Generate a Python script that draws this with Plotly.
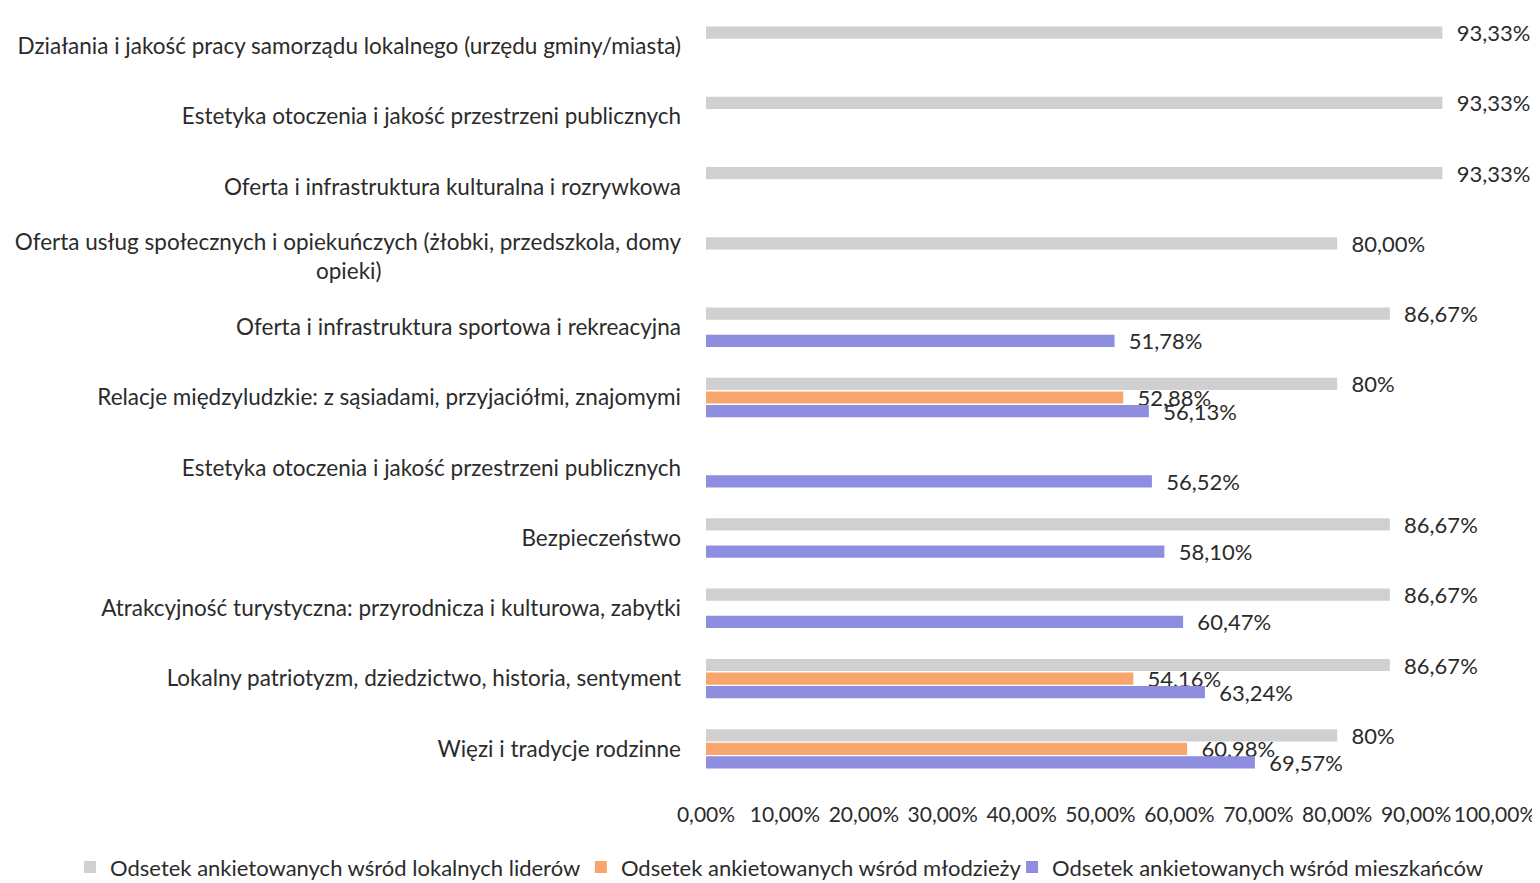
import plotly.graph_objects as go

NB = "\u00a0"
categories = [
    "Działania i jakość pracy samorządu lokalnego (urzędu gminy/miasta)",
    "Estetyka otoczenia i jakość przestrzeni publicznych",
    "Oferta i infrastruktura kulturalna i rozrywkowa",
    "Oferta usług społecznych i opiekuńczych (żłobki, przedszkola, domy<br>opieki)" + NB * 52,
    "Oferta i infrastruktura sportowa i rekreacyjna",
    "Relacje międzyludzkie: z sąsiadami, przyjaciółmi, znajomymi",
    "Estetyka otoczenia i jakość przestrzeni publicznych",
    "Bezpieczeństwo",
    "Atrakcyjność turystyczna: przyrodnicza i kulturowa, zabytki",
    "Lokalny patriotyzm, dziedzictwo, historia, sentyment",
    "Więzi i tradycje rodzinne",
]
leaders = [93.33, 93.33, 93.33, 80.00, 86.67, 80.00, None, 86.67, 86.67, 86.67, 80.00]
leaders_text = ["93,33%", "93,33%", "93,33%", "80,00%", "86,67%", "80%", "", "86,67%", "86,67%", "86,67%", "80%"]
youth = [None, None, None, None, None, 52.88, None, None, None, 54.16, 60.98]
youth_text = ["", "", "", "", "", "52,88%", "", "", "", "54,16%", "60,98%"]
residents = [None, None, None, None, 51.78, 56.13, 56.52, 58.10, 60.47, 63.24, 69.57]
residents_text = ["", "", "", "", "51,78%", "56,13%", "56,52%", "58,10%", "60,47%", "63,24%", "69,57%"]
x_ticks = [0, 10, 20, 30, 40, 50, 60, 70, 80, 90, 100]
x_tick_labels = ["0,00%", "10,00%", "20,00%", "30,00%", "40,00%", "50,00%", "60,00%", "70,00%", "80,00%", "90,00%", "100,00%"]

series_names = [
    "Odsetek ankietowanych wśród lokalnych liderów",
    "Odsetek ankietowanych wśród młodzieży",
    "Odsetek ankietowanych wśród mieszkańców",
]

FONT = "Lato"
TXT = "#2b2b2b"
pos = list(range(len(categories)))

fig = go.Figure()
for name, vals, texts, color, lg in [
    (series_names[0], leaders, leaders_text, "#d0d0d0", "legend"),
    (series_names[1], youth, youth_text, "#f8a66e", "legend2"),
    (series_names[2], residents, residents_text, "#8e8ee0", "legend3"),
]:
    fig.add_trace(go.Bar(
        y=pos, x=vals, orientation="h", name=name, legend=lg,
        marker=dict(color=color, line=dict(width=0)),
        text=[NB * 2 + t if t else "" for t in texts],
        textposition="outside", constraintext="none", cliponaxis=False,
        textfont=dict(family=FONT, size=22, color=TXT),
    ))

legend_common = dict(orientation="h", xref="container", yref="container",
                     y=0.027, xanchor="left", yanchor="middle",
                     font=dict(size=22), itemwidth=30,
                     bgcolor="rgba(0,0,0,0)")

fig.update_layout(
    width=1540, height=883,
    paper_bgcolor="white", plot_bgcolor="white",
    barmode="group", bargap=0.42, bargroupgap=0.1,
    margin=dict(l=698, r=53, t=3, b=107, autoexpand=False),
    font=dict(family=FONT, size=22, color=TXT),
    xaxis=dict(range=[0, 100], tickvals=x_ticks, ticktext=x_tick_labels,
               showgrid=False, zeroline=False, showline=False,
               tickfont=dict(size=21), ticklabelstandoff=16),
    yaxis=dict(tickvals=pos, ticktext=categories, range=[10.5, -0.5],
               showgrid=False, zeroline=False, showline=False,
               tickfont=dict(size=22.5), ticklabelstandoff=24),
    legend=dict(x=0.0403, **legend_common),
    legend2=dict(x=0.372, **legend_common),
    legend3=dict(x=0.652, **legend_common),
    showlegend=True,
)

fig.write_html("out.html")
